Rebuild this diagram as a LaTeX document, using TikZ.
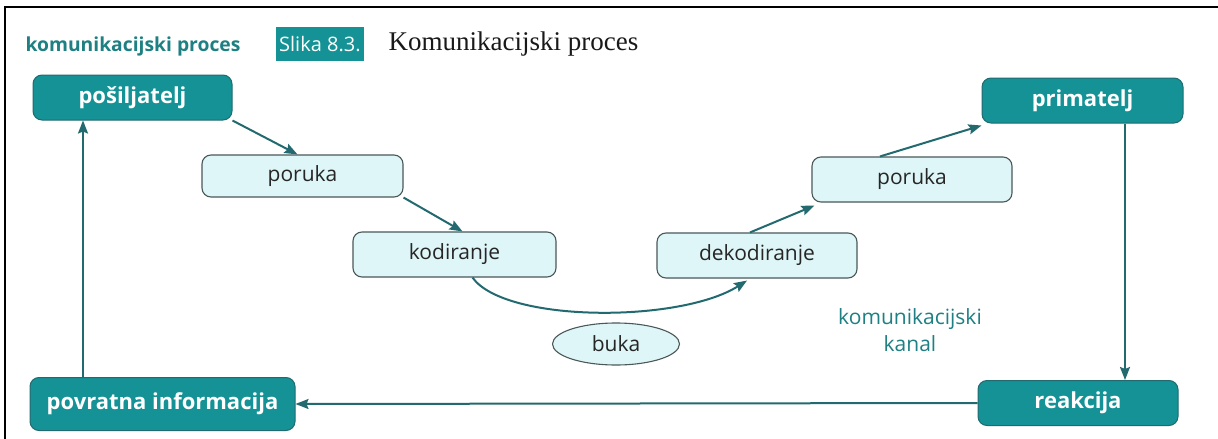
\documentclass[tikz,border=0pt]{standalone}
\usepackage{fontspec}
\setmainfont{Liberation Serif}
\newfontfamily\labfont{Open Sans}
\usetikzlibrary{arrows.meta,shapes.geometric}
\definecolor{tealbox}{RGB}{20,146,149}
\definecolor{tealline}{RGB}{34,106,112}
\definecolor{tealtext}{RGB}{30,128,130}
\definecolor{lightbox}{RGB}{222,246,247}
\definecolor{lightborder}{RGB}{75,88,88}
\tikzset{
  darkbox/.style={rectangle, rounded corners=9pt, fill=tealbox, draw=tealline, line width=1pt,
    text=white, font=\labfont\bfseries\fontsize{22}{26}\selectfont, inner sep=0pt},
  lightnode/.style={rectangle, rounded corners=9pt, fill=lightbox, draw=lightborder, line width=1.1pt,
    text=black!85, font=\labfont\fontsize{21}{24}\selectfont, inner sep=0pt},
  arr/.style={draw=tealline, line width=2pt, -{Stealth[length=13pt,width=10pt,inset=2pt]}},
}
\begin{document}
\begin{tikzpicture}[x=1pt,y=-1pt]
\useasboundingbox (0,0) rectangle (1218,439);
\fill[white] (0,0) rectangle (1218,439);
% frame
\draw[black, line width=2.5pt] (5,439) -- (5,7) -- (1218,7);
% header
\node[anchor=west, text=tealtext, font=\labfont\bfseries\fontsize{19.3}{24}\selectfont] (title) at (22,46) {komunikacijski proces};
\node[anchor=west, fill=tealbox, text=white, font=\labfont\fontsize{20}{24}\selectfont, minimum height=34pt, inner xsep=3pt] (slika) at (276,44) {Slika 8.3.};
\node[anchor=west, text=black!90, font=\fontsize{27}{30}\selectfont] (caption) at (385,44) {Komunikacijski proces};
% nodes
\node[darkbox, minimum width=199pt, minimum height=45pt] (send) at (132.5,97.5) {pošiljatelj};
\node[darkbox, minimum width=201pt, minimum height=45pt] (recv) at (1082.5,100.5) {primatelj};
\node[darkbox, minimum width=265pt, minimum height=53pt] (fb) at (162.5,404) {povratna informacija};
\node[darkbox, minimum width=200pt, minimum height=45pt] (react) at (1078,403) {reakcija};
\node[lightnode, minimum width=201pt, minimum height=42pt] (msg1) at (302.5,176) {poruka};
\node[lightnode, minimum width=203pt, minimum height=45pt] (enc) at (454.5,254.5) {kodiranje};
\node[lightnode, minimum width=200pt, minimum height=45pt] (dec) at (757,255.5) {dekodiranje};
\node[lightnode, minimum width=200pt, minimum height=45pt] (msg2) at (912,179.5) {poruka};
\node[ellipse, fill=lightbox, draw=lightborder, line width=1.1pt, text=black!85,
  font=\labfont\fontsize{21}{24}\selectfont, minimum width=127pt, minimum height=42pt, inner sep=0pt] (noise) at (616,344) {buka};
\node[align=center, text=tealtext, font=\labfont\fontsize{21}{27}\selectfont] (kanal) at (910,330) {komunikacijski\\kanal};
% connectors
\coordinate (vl) at (83,0);
\coordinate (vr) at (1125,0);
\draw[arr] (send.south east) -- ([xshift=-5pt]msg1.north);
\draw[arr] (msg1.south east) -- ([xshift=8pt]enc.north);
\draw[arr] ([xshift=18pt]enc.south) .. controls (505,323) and (680,323) .. ([xshift=-10pt,yshift=-2pt]dec.south);
\draw[arr] ([xshift=-7pt]dec.north) -- ([xshift=3pt,yshift=-3pt]msg2.south west);
\draw[arr] ([xshift=-32pt]msg2.north) -- ([yshift=-2pt]recv.south west);
\draw[arr] (recv.south -| vr) -- (react.north -| vr);
\draw[arr] (react.west) -- (fb.east);
\draw[arr] (fb.north -| vl) -- (send.south -| vl);
\end{tikzpicture}
\end{document}
